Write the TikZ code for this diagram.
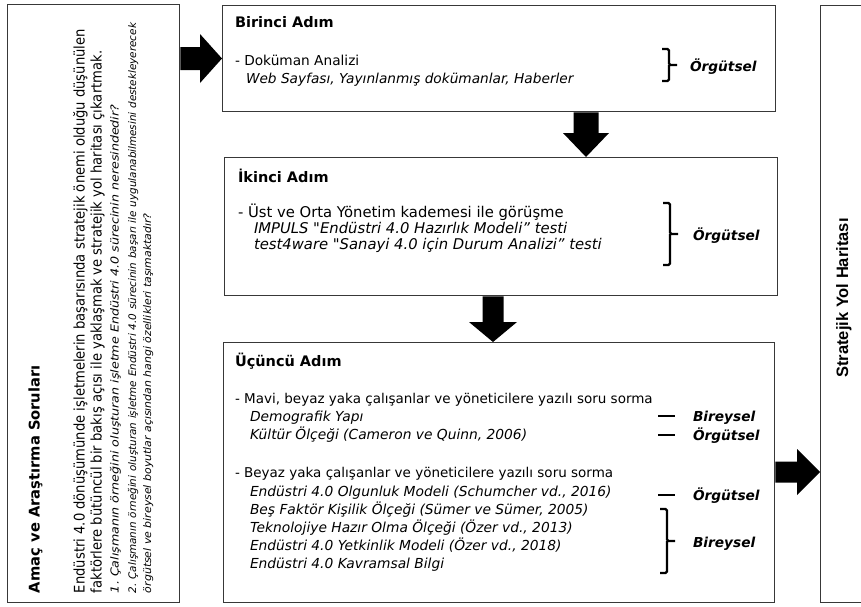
\documentclass[tikz,border=0pt]{standalone}
\usepackage{graphicx}
\usepackage{fontspec}
\setmainfont{DejaVu Sans}[Ligatures=TeXOff]
\newfontfamily\tahfont{DejaVu Sans}[FakeStretch=0.9,Ligatures=TeXOff]
\newfontfamily\arialfont{Liberation Sans}
\usetikzlibrary{calc}
\frenchspacing
\newcommand\fsz[1]{\fontsize{#1}{#1}\selectfont}
% block arrow pointing right: start, end, half shaft, head length, half head
\newcommand\rblockarrow[5]{%
  \fill[blockfill] ($(#1)+(0,-#3)$) -- ($(#2)+(-#4,-#3)$) -- ($(#2)+(-#4,-#5)$) -- (#2)
    -- ($(#2)+(-#4,#5)$) -- ($(#2)+(-#4,#3)$) -- ($(#1)+(0,#3)$) -- cycle;}
% block arrow pointing down (y grows downward)
\newcommand\dblockarrow[5]{%
  \fill[blockfill] ($(#1)+(-#3,0)$) -- ($(#2)+(-#3,-#4)$) -- ($(#2)+(-#5,-#4)$) -- (#2)
    -- ($(#2)+(#5,-#4)$) -- ($(#2)+(#3,-#4)$) -- ($(#1)+(#3,0)$) -- cycle;}
\begin{document}
\begin{tikzpicture}[x=1pt,y=-1pt,
  box/.style={draw=black!78, line width=1.3pt, inner sep=0pt, anchor=north west},
  txt/.style={anchor=base west, inner sep=0pt, outer sep=0pt},
  hd/.style={txt, font=\bfseries\fsz{14.5pt}},
  rtxt/.style={anchor=base west, inner sep=0pt, outer sep=0pt, rotate=90},
  lab/.style={txt, font=\bfseries\itshape\fsz{13.7pt}},
  blockfill/.style={fill=black},
  bracket/.style={draw=black, line width=2.4pt, rounded corners=1.5pt},
  bar/.style={draw=black, line width=2.8pt}
]
\useasboundingbox (0,0) rectangle (861,606);

% ---------------- left box ----------------
\node[box, minimum width=172pt, minimum height=598pt] (lbox) at (7,4) {};
\node[rtxt, font=\bfseries\fsz{14.7pt}] (ltitle) at (39.5,593) {Amaç ve Araştırma Soruları};
\node[rtxt, font=\tahfont\fsz{14.6pt}] (l1) at (84.5,593) {Endüstri 4.0 dönüşümünde işletmelerin başarısında stratejik önemi olduğu düşünülen};
\node[rtxt, font=\tahfont\fsz{14.6pt}] (l2) at (101.5,593) {faktörlere bütüncül bir bakış açısı ile yaklaşmak ve stratejik yol haritası çıkartmak.};
\node[rtxt, font=\itshape\fsz{11pt}] (l3) at (118.5,593) {\scalebox{1.15}[1]{1. Çalışmanın örneğini oluşturan işletme Endüstri 4.0 sürecinin neresindedir?}};
\node[rtxt, font=\itshape\fsz{10.4pt}] (l4) at (136,593) {\makebox[570pt][s]{2. Çalışmanın örneğini oluşturan işletme Endüstri 4.0 sürecinin başarı ile uygulanabilmesini destekleyerecek}};
\node[rtxt, font=\itshape\fsz{10.4pt}] (l5) at (151,593) {\scalebox{1.05}[1]{örgütsel ve bireysel boyutlar açısından hangi özellikleri taşımaktadır?}};

% ---------------- box 1 ----------------
\node[box, minimum width=553pt, minimum height=106pt] (b1) at (222,5) {};
\node[hd] (b1h) at (235,27) {Birinci Adım};
\node[txt, font=\fsz{13.7pt}] (b1a) at (235,65.5) {- Doküman Analizi};
\node[txt, font=\itshape\fsz{13.7pt}] (b1b) at (246,83.5) {Web Sayfası, Yayınlanmış dokümanlar, Haberler};
\draw[bracket] (662,49) -- (669,49) -- (669,65) -- (677,65) (669,65) -- (669,81) -- (662,81);
\node[lab] (b1l) at (690,71) {Örgütsel};

% ---------------- box 2 ----------------
\node[box, minimum width=553pt, minimum height=138pt] (b2) at (224,157) {};
\node[hd] (b2h) at (238,182) {İkinci Adım};
\node[txt, font=\fsz{14.8pt}] (b2a) at (238,217) {- Üst ve Orta Yönetim kademesi ile görüşme};
\node[txt, font=\itshape\fsz{14.8pt}] (b2b) at (254,233.5) {IMPULS "Endüstri 4.0 Hazırlık Modeli” testi};
\node[txt, font=\itshape\fsz{14.8pt}] (b2c) at (254,249.5) {test4ware "Sanayi 4.0 için Durum Analizi” testi};
\draw[bracket] (663,203) -- (670,203) -- (670,234) -- (678,234) (670,234) -- (670,265) -- (663,265);
\node[lab] (b2l) at (693,240) {Örgütsel};

% ---------------- box 3 ----------------
\node[box, minimum width=551pt, minimum height=260pt] (b3) at (223,342) {};
\node[hd] (b3h) at (235,366) {Üçüncü Adım};
\node[txt, font=\fsz{13.5pt}] (b3a) at (235,403) {- Mavi, beyaz yaka çalışanlar ve yöneticilere yazılı soru sorma};
\node[txt, font=\itshape\fsz{13.8pt}] (b3b) at (250,421.5) {Demografik Yapı};
\node[txt, font=\itshape\fsz{13.8pt}] (b3c) at (250,439.5) {Kültür Ölçeği (Cameron ve Quinn, 2006)};
\node[txt, font=\fsz{13.5pt}] (b3d) at (235,477.5) {- Beyaz yaka çalışanlar ve yöneticilere yazılı soru sorma};
\node[txt, font=\itshape\fsz{13.8pt}] (b3e) at (250,496.5) {Endüstri 4.0 Olgunluk Modeli (Schumcher vd., 2016)};
\node[txt, font=\itshape\fsz{13.8pt}] (b3f) at (250,514.5) {Beş Faktör Kişilik Ölçeği (Sümer ve Sümer, 2005)};
\node[txt, font=\itshape\fsz{13.8pt}] (b3g) at (250,532.5) {Teknolojiye Hazır Olma Ölçeği (Özer vd., 2013)};
\node[txt, font=\itshape\fsz{13.8pt}] (b3h2) at (250,550.5) {Endüstri 4.0 Yetkinlik Modeli (Özer vd., 2018)};
\node[txt, font=\itshape\fsz{13.8pt}] (b3i) at (250,568.5) {Endüstri 4.0 Kavramsal Bilgi};
\draw[bar] (658,416) -- (675,416);
\draw[bar] (658,435) -- (675,435);
\draw[bar] (658,495) -- (675,495);
\draw[bracket] (660,509) -- (667,509) -- (667,541) -- (675,541) (667,541) -- (667,573) -- (660,573);
\node[lab] (b3l1) at (693,421) {Bireysel};
\node[lab] (b3l2) at (693,440) {Örgütsel};
\node[lab] (b3l3) at (693,500) {Örgütsel};
\node[lab] (b3l4) at (693,547) {Bireysel};

% ---------------- right box (clipped by the page) ----------------
\begin{scope}
\clip (0,0) rectangle (861,606);
\node[box, minimum width=80pt, minimum height=597pt] (rbox) at (820,5) {};
\end{scope}
\node[anchor=base, inner sep=0pt, rotate=90, font=\arialfont\bfseries\fsz{16.5pt}] (rtitle) at (848,298) {Stratejik Yol Haritası};

% ---------------- block arrows ----------------
\coordinate (y1) at (0,58.5);
\coordinate (a1s) at (lbox.east |- y1);
\coordinate (a1e) at (b1.west |- y1);
\rblockarrow{a1s}{a1e}{11.5}{22}{24.5}

\coordinate (x2) at (586,0);
\coordinate (a2s) at (b1.south -| x2);
\coordinate (a2e) at (b2.north -| x2);
\dblockarrow{a2s}{a2e}{12.5}{24}{23}

\coordinate (x3) at (493,0);
\coordinate (a3s) at (b2.south -| x3);
\coordinate (a3e) at (b3.north -| x3);
\dblockarrow{a3s}{a3e}{10.5}{20}{24}

\coordinate (y4) at (0,472);
\coordinate (a4s) at (b3.east |- y4);
\coordinate (a4e) at (rbox.west |- y4);
\rblockarrow{a4s}{a4e}{10.5}{23}{23}
\end{tikzpicture}
\end{document}
